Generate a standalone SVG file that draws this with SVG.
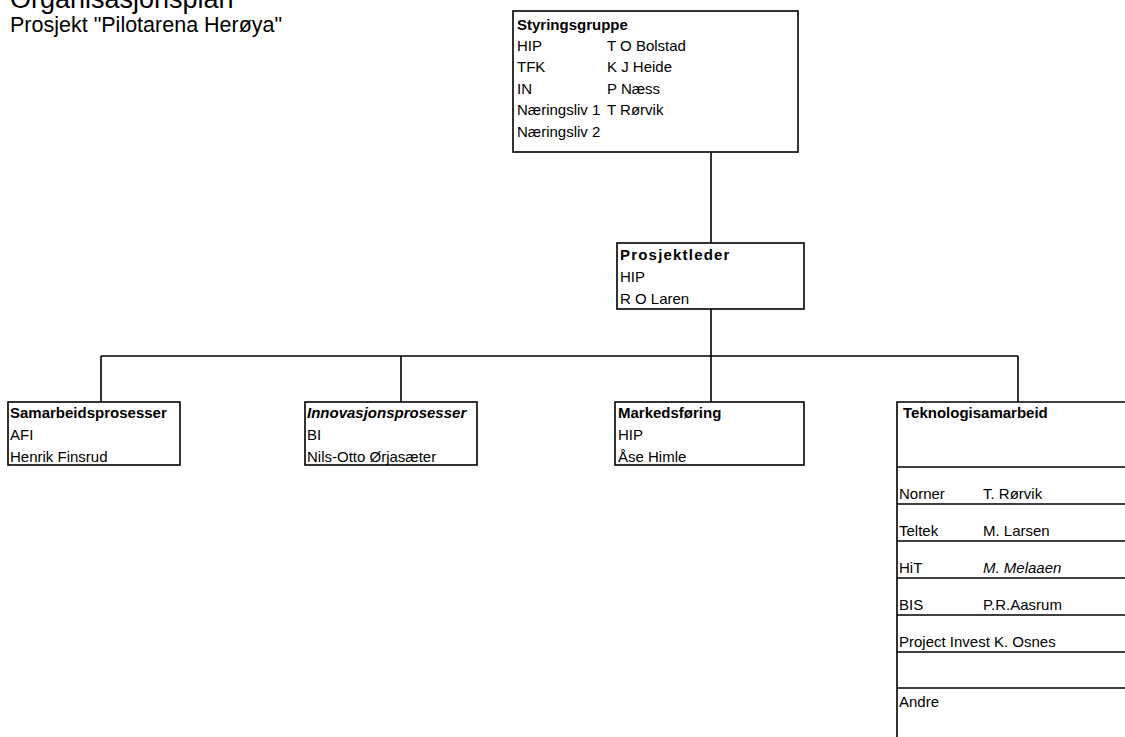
<svg xmlns="http://www.w3.org/2000/svg" width="1125" height="737" viewBox="0 0 1125 737">
<style>
text{font-family:"Liberation Sans",Arial,sans-serif;font-size:15px;fill:#000}
.b{font-weight:bold}
.bi{font-weight:bold;font-style:italic}
.i{font-style:italic}
.t1{font-size:27px}
.t2{font-size:21.5px}
.box{fill:#fff;stroke:#000;stroke-width:1.6}
.ln{stroke:#000;stroke-width:1.6;fill:none}
</style>
<rect width="1125" height="737" fill="#fff"/>
<g id="title">
<text class="t1" x="10" y="8">Organisasjonsplan</text>
<text class="t2" x="10" y="32">Prosjekt "Pilotarena Herøya"</text>
</g>
<g id="connectors">
<line class="ln" x1="711" y1="152" x2="711" y2="243"/>
<line class="ln" x1="711" y1="309" x2="711" y2="402"/>
<line class="ln" x1="101" y1="356" x2="1018" y2="356"/>
<line class="ln" x1="101" y1="356" x2="101" y2="402"/>
<line class="ln" x1="401" y1="356" x2="401" y2="402"/>
<line class="ln" x1="1018" y1="356" x2="1018" y2="402"/>
</g>
<g id="styringsgruppe">
<rect class="box" x="513" y="11" width="285" height="141"/>
<text class="b" x="517" y="30">Styringsgruppe</text>
<text x="517" y="51">HIP</text><text x="607" y="51">T O Bolstad</text>
<text x="517" y="72">TFK</text><text x="607" y="72">K J Heide</text>
<text x="517" y="94">IN</text><text x="607" y="94">P Næss</text>
<text x="517" y="115">Næringsliv 1</text><text x="607" y="115">T Rørvik</text>
<text x="517" y="137">Næringsliv 2</text>
</g>
<g id="prosjektleder">
<rect class="box" x="617" y="243" width="187" height="66"/>
<text class="b" x="620" y="260" letter-spacing="1.2">Prosjektleder</text>
<text x="620" y="282">HIP</text>
<text x="620" y="304">R O Laren</text>
</g>
<g id="samarbeid">
<rect class="box" x="8" y="402" width="172" height="63"/>
<text class="b" x="10" y="418">Samarbeidsprosesser</text>
<text x="10" y="440">AFI</text>
<text x="10" y="462">Henrik Finsrud</text>
</g>
<g id="innovasjon">
<rect class="box" x="305" y="402" width="172" height="63"/>
<text class="bi" x="307" y="418">Innovasjonsprosesser</text>
<text x="307" y="440">BI</text>
<text x="307" y="462">Nils-Otto Ørjasæter</text>
</g>
<g id="markedsforing">
<rect class="box" x="615" y="402" width="189" height="63"/>
<text class="b" x="618" y="418">Markedsføring</text>
<text x="618" y="440">HIP</text>
<text x="618" y="462">Åse Himle</text>
</g>
<g id="teknologi">
<path class="ln" d="M1126 402 H897 V737"/>
<line class="ln" x1="897" y1="467" x2="1126" y2="467"/>
<line class="ln" x1="897" y1="504" x2="1126" y2="504"/>
<line class="ln" x1="897" y1="541" x2="1126" y2="541"/>
<line class="ln" x1="897" y1="578" x2="1126" y2="578"/>
<line class="ln" x1="897" y1="615" x2="1126" y2="615"/>
<line class="ln" x1="897" y1="652" x2="1126" y2="652"/>
<line class="ln" x1="897" y1="688" x2="1126" y2="688"/>
<text class="b" x="903" y="418">Teknologisamarbeid</text>
<text x="899" y="499">Norner</text><text x="983" y="499">T. Rørvik</text>
<text x="899" y="536">Teltek</text><text x="983" y="536">M. Larsen</text>
<text x="899" y="573">HiT</text><text class="i" x="983" y="573">M. Melaaen</text>
<text x="899" y="610">BIS</text><text x="983" y="610">P.R.Aasrum</text>
<text x="899" y="647">Project Invest</text><text x="994" y="647">K. Osnes</text>
<text x="899" y="707">Andre</text>
</g>
</svg>
